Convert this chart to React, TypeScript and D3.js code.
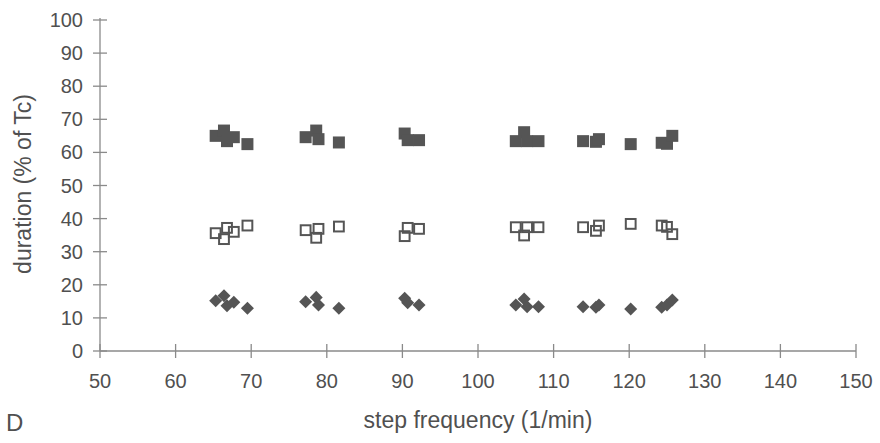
import React from "react";
import * as d3 from "d3";

// Step frequency (1/min) for each trial
const stepFrequency = [
  65.3, 66.4, 66.8, 67.7, 69.5,
  77.2, 78.6, 78.9, 81.6,
  90.3, 90.7, 92.2,
  105.0, 106.1, 106.5, 108.0,
  113.9, 115.6, 116.0,
  120.2,
  124.3, 125.0, 125.7,
];

// Durations as % of cycle time (Tc)
const filledSquares = [
  65.0, 66.6, 63.4, 64.6, 62.5,
  64.6, 66.6, 64.0, 63.0,
  65.7, 63.7, 63.7,
  63.4, 66.1, 63.4, 63.4,
  63.4, 63.2, 64.0,
  62.5,
  62.9, 62.6, 65.0,
];
const openSquares = [
  35.6, 33.8, 37.2, 36.0, 37.9,
  36.5, 34.2, 36.9, 37.6,
  34.7, 37.2, 36.9,
  37.4, 34.9, 37.4, 37.4,
  37.4, 36.3, 37.9,
  38.4,
  37.9, 37.5, 35.3,
];
const diamonds = [
  15.2, 16.7, 13.7, 14.7, 12.9,
  14.9, 16.2, 13.9, 12.9,
  15.9, 14.6, 13.9,
  13.9, 15.7, 13.4, 13.4,
  13.4, 13.2, 13.9,
  12.7,
  13.2, 13.9, 15.4,
];

const xTicks = [50, 60, 70, 80, 90, 100, 110, 120, 130, 140, 150];
const yTicks = [0, 10, 20, 30, 40, 50, 60, 70, 80, 90, 100];

const W = 880;
const H = 443;
const left = 100;
const right = 856;
const top = 20;
const bottom = 351;

const axisColor = "#8a8a8a";
const textColor = "#505050";
const markColor = "#555555";
const font = "'Liberation Sans', Arial, sans-serif";

export default function App() {
  const x = d3.scaleLinear().domain([50, 150]).range([left, right]);
  const y = d3.scaleLinear().domain([0, 100]).range([bottom, top]);

  const sq = 12;
  const osq = 9.8;
  const dia = 9.2;

  return (
    <svg
      width={W}
      height={H}
      style={{ position: "absolute", left: 0, top: 0, background: "#fff" }}
    >
      {/* axes */}
      <line x1={left} x2={left} y1={top - 2} y2={bottom} stroke={axisColor} strokeWidth={1.3} />
      <line x1={left} x2={right} y1={bottom} y2={bottom} stroke={axisColor} strokeWidth={1.3} />

      {yTicks.map((t) => (
        <g key={"y" + t}>
          <line x1={left - 7} x2={left + 7} y1={y(t)} y2={y(t)} stroke={axisColor} strokeWidth={1.3} />
          <text
            x={83}
            y={y(t) + 7}
            textAnchor="end"
            fontFamily={font}
            fontSize={20}
            fill={textColor}
          >
            {t}
          </text>
        </g>
      ))}

      {xTicks.map((t) => (
        <g key={"x" + t}>
          <line x1={x(t)} x2={x(t)} y1={bottom - 7} y2={bottom + 7} stroke={axisColor} strokeWidth={1.3} />
          <text
            x={x(t)}
            y={388}
            textAnchor="middle"
            fontFamily={font}
            fontSize={20}
            fill={textColor}
          >
            {t}
          </text>
        </g>
      ))}

      {/* filled squares */}
      {stepFrequency.map((f, i) => (
        <rect
          key={"fs" + i}
          x={x(f) - sq / 2}
          y={y(filledSquares[i]) - sq / 2}
          width={sq}
          height={sq}
          fill={markColor}
        />
      ))}

      {/* open squares */}
      {stepFrequency.map((f, i) => (
        <rect
          key={"os" + i}
          x={x(f) - osq / 2}
          y={y(openSquares[i]) - osq / 2}
          width={osq}
          height={osq}
          fill="none"
          stroke={markColor}
          strokeWidth={2}
        />
      ))}

      {/* diamonds */}
      {stepFrequency.map((f, i) => (
        <rect
          key={"dm" + i}
          x={-dia / 2}
          y={-dia / 2}
          width={dia}
          height={dia}
          fill={markColor}
          transform={`translate(${x(f)},${y(diamonds[i])}) rotate(45)`}
        />
      ))}

      {/* axis titles */}
      <text
        transform={`translate(31,184) rotate(-90)`}
        textAnchor="middle"
        fontFamily={font}
        fontSize={23}
        fill={textColor}
      >
        duration (% of Tc)
      </text>
      <text
        x={478}
        y={428}
        textAnchor="middle"
        fontFamily={font}
        fontSize={23}
        fill={textColor}
      >
        step frequency (1/min)
      </text>
      <text x={6} y={431} fontFamily={font} fontSize={24} fill={textColor}>
        D
      </text>
    </svg>
  );
}
